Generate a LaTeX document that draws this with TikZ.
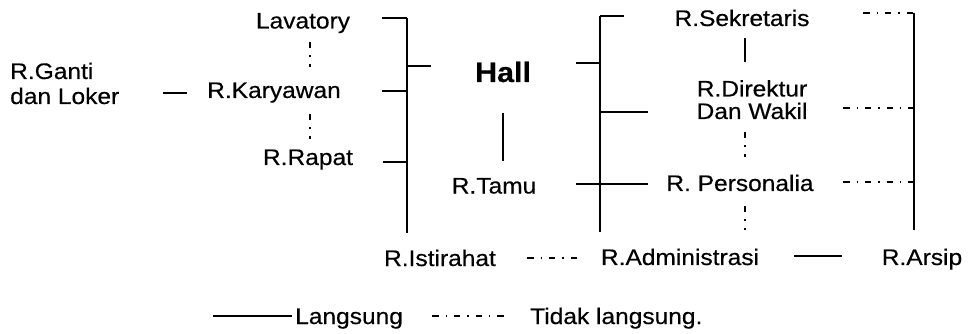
\documentclass[tikz,border=0pt]{standalone}
\usepackage{fontspec}
\setmainfont{Liberation Sans}[FakeStretch=1.09,FakeBold=0.4]
\begin{document}
\begin{tikzpicture}[x=1pt,y=-1pt,
  lbl/.style={inner sep=0pt,font=\fontsize{22.5}{25}\selectfont},
  direct/.style={line width=1.4pt},
  indirect/.style={line width=1.4pt,dash pattern=on 6.5pt off 7pt on 1.3pt off 7pt}]
\useasboundingbox (0,0) rectangle (970,334);
% labels
\node[lbl,anchor=base] (lav) at (303,28.5) {Lavatory};
\node[lbl,anchor=base] (kar) at (274,98) {R.Karyawan};
\node[lbl,anchor=base] (rap) at (308,165) {R.Rapat};
\node[lbl,anchor=base west,align=left] (gan) at (10,104) {R.Ganti\\dan Loker};
\node[inner sep=0pt,anchor=base,font=\fontsize{28}{30}\selectfont\bfseries] (hall) at (503,82) {Hall};
\node[lbl,anchor=base] (tamu) at (494,193.5) {R.Tamu};
\node[lbl,anchor=base] (ist) at (440,266) {R.Istirahat};
\node[lbl,anchor=base] (adm) at (680,265) {R.Administrasi};
\node[lbl,anchor=base] (ars) at (922,265) {R.Arsip};
\node[lbl,anchor=base] (sek) at (742,26) {R.Sekretaris};
\node[lbl,anchor=base,align=center,font=\fontsize{22.5}{22.5}\selectfont] (dir) at (752,119) {R.Direktur\\Dan Wakil};
\node[lbl,anchor=base] (per) at (740,191) {R. Personalia};
\node[lbl,anchor=base west] (lg1) at (295,324) {Langsung};
\node[lbl,anchor=base west] (lg2) at (530,324) {Tidak langsung.};
% left bracket
\coordinate (lbT) at (407,18);
\coordinate (lbB) at (407,233);
\draw[direct] (lbT) -- (lbB);
\draw[direct] (382,18) -- (lbT);
\draw[direct] (382,91) -- (407,91);
\draw[direct] (383,162) -- (407,162);
\draw[direct] (407,66) -- (431,66);
% middle bracket
\coordinate (mbT) at (600,16);
\coordinate (mbB) at (600,232);
\draw[direct] (mbT) -- (mbB);
\draw[direct] (mbT) -- (624,16);
\draw[direct] (576,63) -- (600,63);
\draw[direct] (600,112) -- (648,112);
\draw[direct] (576,184) -- (648,184);
% right bracket
\coordinate (rbT) at (914,13);
\coordinate (rbB) at (914,230);
\draw[direct] (rbT) -- (rbB);
\draw[indirect] (863,13) -- (rbT);
\draw[indirect] (843,108) -- (914,108);
\draw[indirect] (843,182) -- (914,182);
% other links
\draw[direct] (163,93) -- (187,93);
\draw[indirect] (310,42) -- (310,67);
\draw[indirect] (310,114) -- (310,139);
\draw[direct] (503,113) -- (503,161);
\draw[direct] (745,38) -- (745,62);
\draw[indirect] (745,132) -- (745,157);
\draw[indirect] (745,206) -- (745,230);
\draw[indirect] (527,258) -- (577,258);
\draw[direct] (794,256) -- (842,256);
% legend
\draw[direct] (213,316) -- (292,316);
\draw[indirect] (432,316) -- (505,316);
\end{tikzpicture}
\end{document}
